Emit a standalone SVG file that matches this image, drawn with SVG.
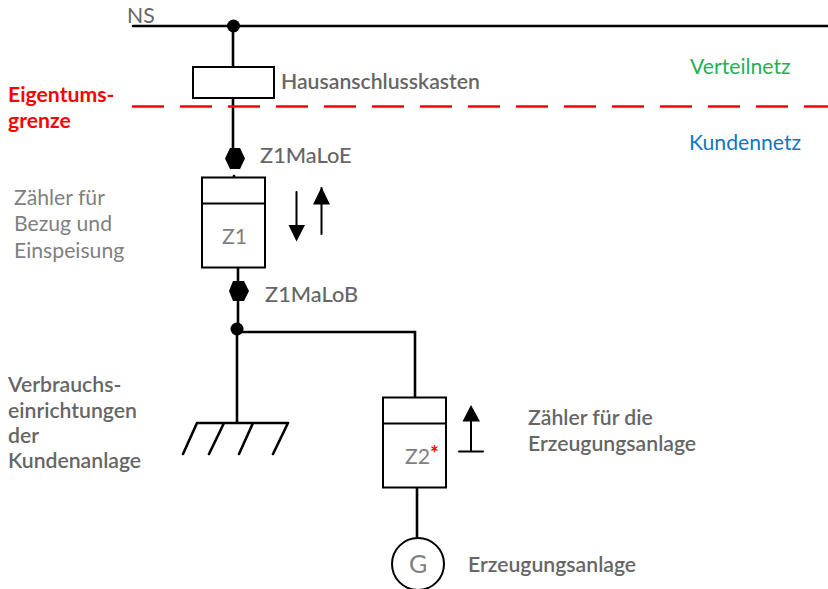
<svg xmlns="http://www.w3.org/2000/svg" width="828" height="589" viewBox="0 0 828 589">
<style>
text{font-family:Lato,"Liberation Sans",sans-serif;font-size:21.200px;fill:#666}
.b{font-weight:600}
.m{font-weight:500;font-size:21.800px}
.l{font-weight:400;fill:#7f7f7f}
.w{fill:none;stroke:#000;stroke-width:2.600;stroke-linecap:round}
.t{stroke-width:2}
.box{fill:#fff;stroke:#000;stroke-width:2}
.f{fill:#000;stroke:none}
</style>
<rect width="828" height="589" fill="#fff"/>
<g id="connectors">
<path class="w" d="M133 26H828M233 26V67M233 98V166M234 176V178M238 268V329M237 329V422M237 332H415V397M417 488V539"/>
<path id="grenze" d="M132 106.500H828" fill="none" stroke="#f00" stroke-width="2.400" stroke-dasharray="32 16"/>
</g>
<g id="ns"><circle class="f" cx="233.500" cy="26" r="6.500"/><text x="127" y="23" style="fill:#666">NS</text></g>
<g id="hausanschluss"><rect class="box" x="193" y="67" width="81" height="31"/><text class="b" x="281" y="89">Hausanschlusskasten</text></g>
<g id="verteilnetz"><text x="690" y="74" style="fill:#1db255">Verteilnetz</text></g>
<g id="kundennetz"><text x="689" y="150" style="fill:#1276c4">Kundennetz</text></g>
<g id="eigentum"><text x="8" y="102" style="fill:#f00;font-weight:700">Eigentums-</text><text x="8" y="128" style="fill:#f00;font-weight:700">grenze</text></g>
<g id="z1maloe"><path class="f" d="M225 158.500L230 148H240L245 158.500L240 169H230Z"/><text class="m" x="260" y="163">Z1MaLoE</text></g>
<g id="z1">
<rect class="box" x="202" y="177.500" width="63" height="90"/><path class="w t" d="M202 203.500H265"/>
<text class="l" x="222" y="244">Z1</text>
<path class="w t" d="M296.500 192V232M321.500 188V234"/>
<path class="f" d="M288.500 225H305L296.500 241.500ZM313 204.500H330L321.500 187Z"/>
<text class="l" x="14" y="205">Zähler für</text><text class="l" x="14" y="231">Bezug und</text><text class="l" x="14" y="258">Einspeisung</text>
</g>
<g id="z1malob"><path class="f" d="M229 291L233 281H244L249 291L244 301H233Z"/><circle class="f" cx="237" cy="329" r="6.500"/><text class="m" x="265" y="302">Z1MaLoB</text></g>
<g id="verbrauch">
<path class="w" d="M197 423H288M197 423L183 454M224 423L209 454M253 423L239 454M288 423L273 454"/>
<text class="b" x="8" y="392">Verbrauchs-</text><text class="b" x="8" y="418">einrichtungen</text><text class="b" x="8" y="443">der</text><text class="b" x="8" y="468">Kundenanlage</text>
</g>
<g id="z2">
<rect class="box" x="383" y="397.500" width="63" height="90"/><path class="w t" d="M383 423.500H446"/>
<text class="l" x="405" y="464">Z2<tspan style="fill:#f00;font-size:21px;font-weight:700" dy="-3">*</tspan></text>
<path class="w t" d="M459 451.500H483M471 451.500V417"/><path class="f" d="M462.500 421.500H480L471 405Z"/>
<text class="b" x="528" y="425">Zähler für die</text><text class="b" x="528" y="451">Erzeugungsanlage</text>
</g>
<g id="generator"><circle cx="418" cy="564" r="26" fill="#fff" stroke="#000" stroke-width="2"/><text class="l" x="409" y="573" style="font-size:25px">G</text><text class="b" x="468" y="572">Erzeugungsanlage</text></g>
</svg>
